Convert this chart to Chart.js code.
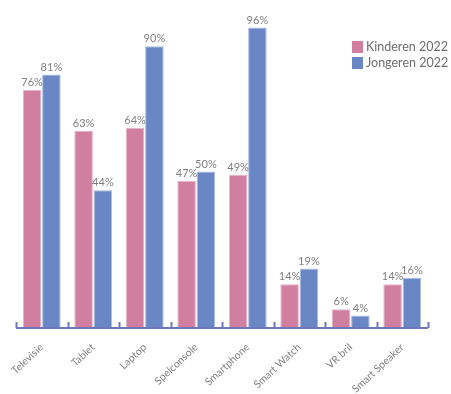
<!DOCTYPE html>
<html lang="nl">
<head>
  <meta charset="UTF-8">
  <title>Apparaten kinderen en jongeren 2022</title>
  <style>
body {
  margin: 0;
  padding: 0;
  background: #ffffff;
}

.chart-box {
  width: 451px;
  height: 394px;
}
  </style>
</head>
<body>

  <div class="chart-box">
    <canvas id="deviceChart" width="451" height="394"></canvas>
  </div>

  <script src="https://cdn.jsdelivr.net/npm/chart.js"></script>

  <script>
    // Data per apparaat (percentages)
    const devices = ['Televisie', 'Tablet', 'Laptop', 'Spelconsole', 'Smartphone', 'Smart Watch', 'VR bril', 'Smart Speaker'];
    const kinderen = [76, 63, 64, 47, 49, 14, 6, 14];
    const jongeren = [81, 44, 90, 50, 96, 19, 4, 16];
    const seriesNames = ['Kinderen 2022', 'Jongeren 2022'];

    const pink = '#d17fa1';
    const blue = '#6a87c5';
    const axisColor = '#6f76bb';
    const labelColor = '#808080';

    // draws the baseline with small upward ticks between categories
    const axisLine = {
      id: 'axisLine',
      afterDatasetsDraw(chart) {
        const ctx = chart.ctx;
        const x = chart.scales.x;
        const bottom = chart.chartArea.bottom;
        const step = x.getPixelForValue(1) - x.getPixelForValue(0);
        ctx.save();
        ctx.strokeStyle = axisColor;
        ctx.lineWidth = 2;
        ctx.beginPath();
        ctx.moveTo(x.left, bottom);
        ctx.lineTo(x.right, bottom);
        for (let i = 0; i <= devices.length; i++) {
          const px = Math.round(x.getPixelForValue(i) - step / 2) + 0.5;
          ctx.moveTo(px, bottom);
          ctx.lineTo(px, bottom - 6);
        }
        ctx.stroke();
        ctx.restore();
      }
    };

    // percentage above every bar
    const valueLabels = {
      id: 'valueLabels',
      afterDatasetsDraw(chart) {
        const ctx = chart.ctx;
        ctx.save();
        ctx.font = '11px Lato, sans-serif';
        ctx.fillStyle = labelColor;
        ctx.textAlign = 'center';
        ctx.textBaseline = 'bottom';
        chart.data.datasets.forEach((ds, i) => {
          chart.getDatasetMeta(i).data.forEach((bar, j) => {
            ctx.fillText(ds.data[j] + '%', bar.x, bar.y - 2);
          });
        });
        ctx.restore();
      }
    };

    // legend in the top right corner
    const cornerLegend = {
      id: 'cornerLegend',
      afterDraw(chart) {
        const ctx = chart.ctx;
        ctx.save();
        ctx.font = '12.5px Lato, sans-serif';
        ctx.textBaseline = 'middle';
        chart.data.datasets.forEach((ds, i) => {
          const y = 47 + i * 16;
          ctx.fillStyle = ds.backgroundColor;
          ctx.fillRect(352, y - 6, 11, 12);
          ctx.fillStyle = '#6e6e6e';
          ctx.fillText(ds.label, 366, y);
        });
        ctx.restore();
      }
    };

    const ctxDevices = document.getElementById('deviceChart').getContext('2d');

    const deviceChart = new Chart(ctxDevices, {
      type: 'bar',
      data: {
        labels: devices,
        datasets: [
          {
            label: seriesNames[0],
            data: kinderen,
            backgroundColor: pink,
            borderColor: '#e6b3c8',
            borderWidth: 1,
            categoryPercentage: 0.75,
            barPercentage: 0.96
          },
          {
            label: seriesNames[1],
            data: jongeren,
            backgroundColor: blue,
            borderColor: '#a9bbe0',
            borderWidth: 1,
            categoryPercentage: 0.75,
            barPercentage: 0.96
          }
        ]
      },
      options: {
        responsive: false,
        animation: false,
        layout: {
          padding: { top: 15, left: 16, right: 23, bottom: 0 }
        },
        plugins: {
          legend: { display: false },
          tooltip: { enabled: false }
        },
        scales: {
          x: {
            grid: { display: false },
            border: { display: false },
            afterFit(scale) {
              scale.height = 66;
            },
            ticks: {
              color: labelColor,
              font: { family: 'Lato, sans-serif', size: 10.5 },
              minRotation: 43,
              maxRotation: 43,
              padding: 5
            }
          },
          y: {
            display: false,
            min: 0,
            max: 100
          }
        }
      },
      plugins: [axisLine, valueLabels, cornerLegend]
    });
  </script>

</body>
</html>
